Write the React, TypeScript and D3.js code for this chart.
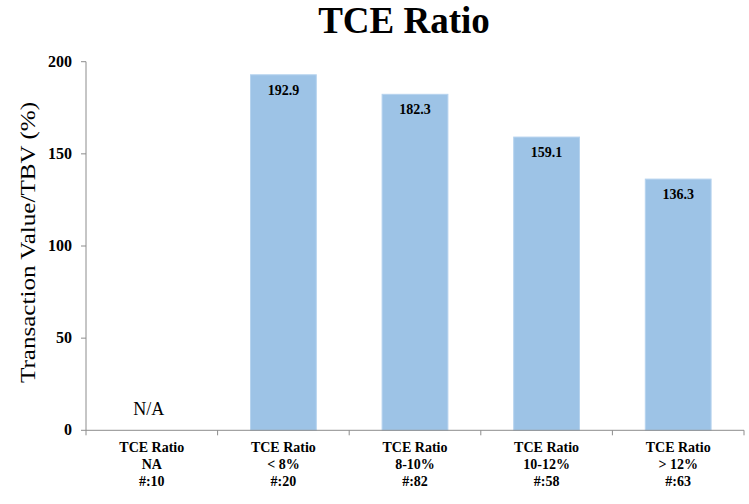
import React from "react";
import * as d3 from "d3";

const categories = ["NA", "< 8%", "8-10%", "10-12%", "> 12%"];
const counts = ["#:10", "#:20", "#:82", "#:58", "#:63"];
const values: (number | null)[] = [null, 192.9, 182.3, 159.1, 136.3];
const yTicks = [0, 50, 100, 150, 200];

const W = 749;
const H = 504;
const margin = { left: 86, right: 5, top: 61.7, bottom: 73.7 };
const serif = "'Liberation Serif', 'Times New Roman', serif";

export default function App() {
  const x = d3
    .scaleBand<number>()
    .domain(categories.map((_, i) => i))
    .range([margin.left, W - margin.right])
    .paddingInner(0.5)
    .paddingOuter(0.25);
  const y = d3.scaleLinear().domain([0, 200]).range([H - margin.bottom, margin.top]);
  const step = x.step();
  const x0 = margin.left;
  const x1 = W - margin.right;
  const axisColor = "#8c8c8c";

  return (
    <svg width={W} height={H} style={{ position: "absolute", left: 0, top: 0 }}>
      <rect width={W} height={H} fill="#fff" />
      <text x={404} y={33} textAnchor="middle" fontFamily={serif} fontWeight="bold" fontSize={37}>
        TCE Ratio
      </text>
      <text
        transform={`translate(35,${242.5}) rotate(-90)`}
        textAnchor="middle"
        fontFamily={serif}
        fontSize={20}
        textLength={281}
        lengthAdjust="spacingAndGlyphs"
      >
        Transaction Value/TBV (%)
      </text>
      {/* y axis */}
      <line x1={x0} x2={x0} y1={y(200)} y2={y(0)} stroke={axisColor} />
      {yTicks.map((t) => (
        <g key={t}>
          <line x1={x0 - 5} x2={x0} y1={y(t)} y2={y(t)} stroke={axisColor} />
          <text x={72} y={y(t) + 5} textAnchor="end" fontFamily={serif} fontWeight="bold" fontSize={16}>
            {t}
          </text>
        </g>
      ))}
      {/* bars */}
      {values.map((v, i) =>
        v == null ? null : (
          <g key={i}>
            <rect
              x={x(i)!}
              y={y(v)}
              width={x.bandwidth()}
              height={y(0) - y(v)}
              fill="#9dc3e6"
              stroke="#b6d3ee"
              strokeWidth={1}
            />
            <text
              x={x(i)! + x.bandwidth() / 2}
              y={y(v) + 20}
              textAnchor="middle"
              fontFamily={serif}
              fontWeight="bold"
              fontSize={14}
            >
              {v.toFixed(1)}
            </text>
          </g>
        )
      )}
      <text x={x(0)! + x.bandwidth() / 2 - 3} y={415} textAnchor="middle" fontFamily={serif} fontSize={18}>
        N/A
      </text>
      {/* x axis */}
      <line x1={x0} x2={x1} y1={y(0)} y2={y(0)} stroke={axisColor} />
      {d3.range(categories.length + 1).map((k) => (
        <line key={k} x1={x0 + k * step} x2={x0 + k * step} y1={y(0)} y2={y(0) + 5} stroke={axisColor} />
      ))}
      {categories.map((c, i) => {
        const cx = x(i)! + x.bandwidth() / 2;
        return (
          <text key={c} textAnchor="middle" fontFamily={serif} fontWeight="bold" fontSize={14}>
            <tspan x={cx} y={452}>TCE Ratio</tspan>
            <tspan x={cx} y={469}>{c}</tspan>
            <tspan x={cx} y={486}>{counts[i]}</tspan>
          </text>
        );
      })}
    </svg>
  );
}
